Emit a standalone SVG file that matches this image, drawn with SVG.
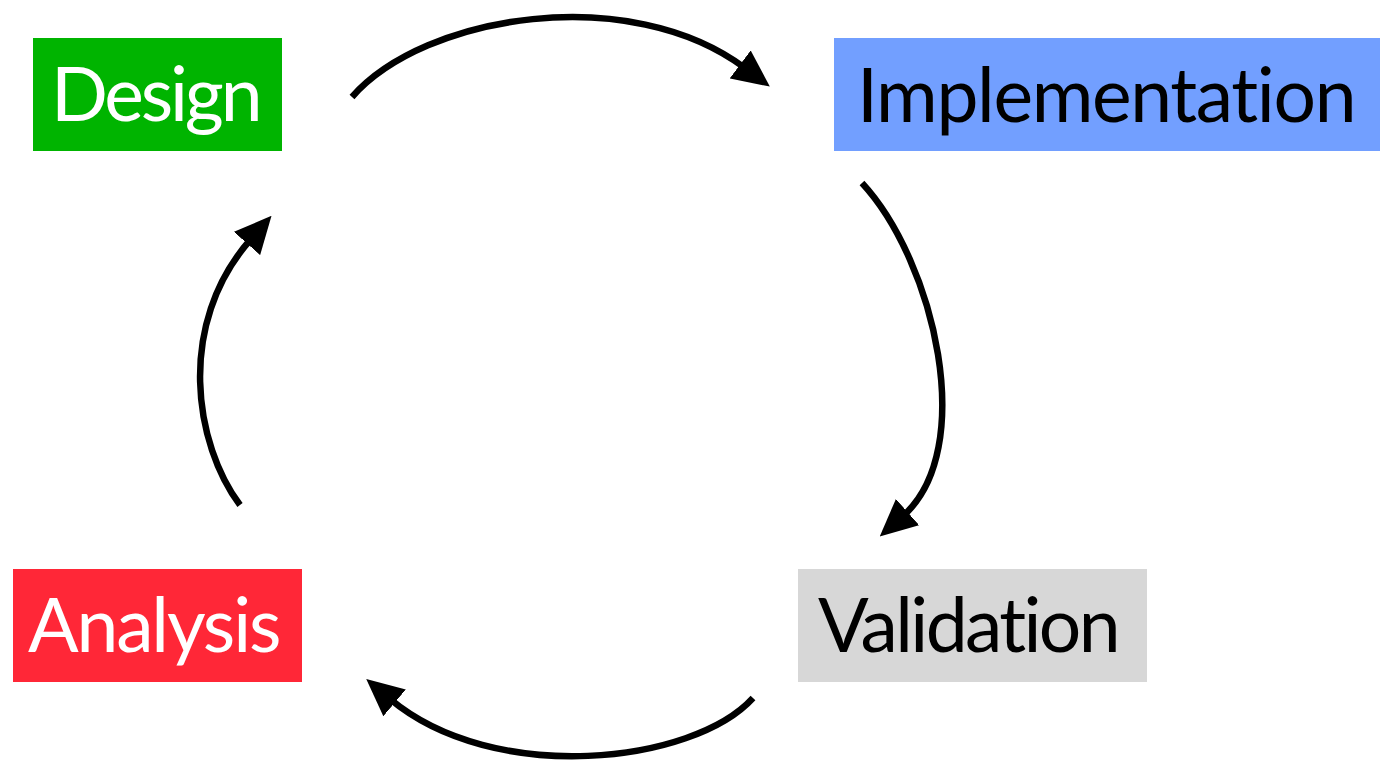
<svg xmlns="http://www.w3.org/2000/svg" width="1380" height="765" viewBox="0 0 1380 765">
<style>
.lbl{font-family:Lato,"Open Sans","Liberation Sans",sans-serif;font-size:75px;font-variant-ligatures:none;font-feature-settings:"liga" 0,"clig" 0,"calt" 0,"dlig" 0;letter-spacing:0.5px;}
.w{fill:#ffffff;}
.k{fill:#000000;}
.conn{fill:none;stroke:#000;stroke-width:6.5;marker-end:url(#ah);}
</style>
<defs>
<marker id="ah" markerUnits="userSpaceOnUse" markerWidth="37" markerHeight="35" viewBox="0 0 37 35" refX="6" refY="17.5" orient="auto">
<path d="M0,0 L37,17.5 L0,35 z" fill="#000"/>
</marker>
</defs>
<rect width="1380" height="765" fill="#ffffff"/>
<g id="connectors">
<path class="conn" d="M352,97 C425,14 630,-18 745,68"/>
<path class="conn" d="M862,183 C935,262 978,450 903,516"/>
<path class="conn" d="M753,698 C693,764 494,786 390,699"/>
<path class="conn" d="M240,505 C195,445 175,325 251,239"/>
</g>
<g id="design">
<rect x="33" y="38" width="249" height="113" fill="#00b400"/>
<text class="lbl w" x="51" y="121" textLength="212">Design</text>
</g>
<g id="implementation">
<rect x="834" y="38" width="546" height="113" fill="#729fff"/>
<text class="lbl k" x="857" y="122" textLength="500">Implementation</text>
</g>
<g id="validation">
<rect x="798" y="569" width="349" height="113" fill="#d7d7d7"/>
<text class="lbl k" x="818" y="652" textLength="303">Validation</text>
</g>
<g id="analysis">
<rect x="13" y="569" width="289" height="113" fill="#ff2737"/>
<text class="lbl w" x="28" y="652" textLength="254">Analysis</text>
</g>
</svg>
